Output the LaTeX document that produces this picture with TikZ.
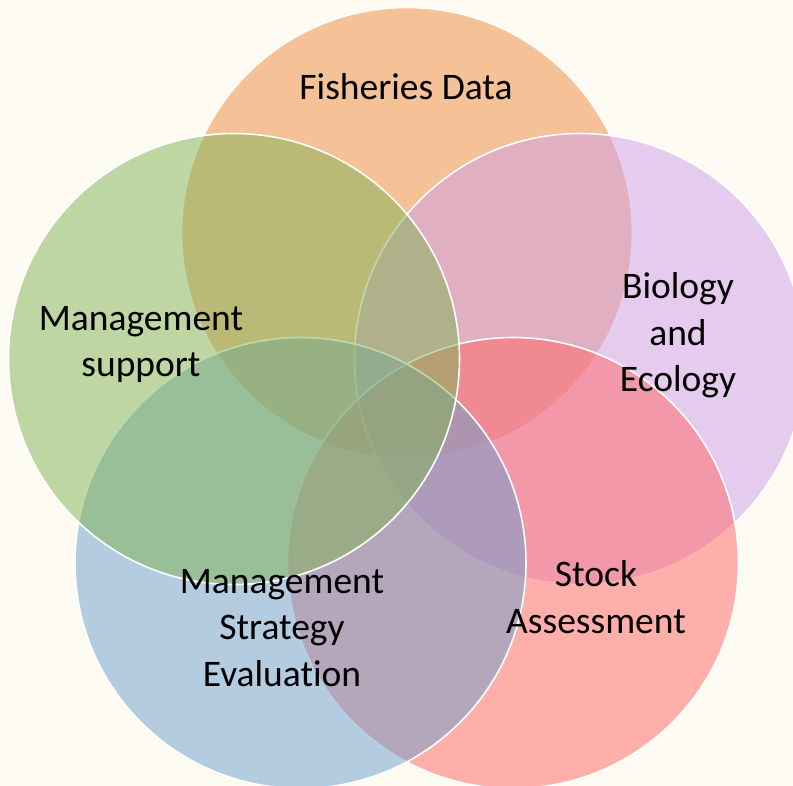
\documentclass[tikz,border=0pt]{standalone}
\usepackage{fontspec}
\setmainfont[Ligatures=NoCommon]{Carlito}
\definecolor{bgc}{RGB}{254,251,242}
\definecolor{corange}{RGB}{238,137,62}
\definecolor{cpurple}{RGB}{206,159,238}
\definecolor{cred}{RGB}{255,101,98}
\definecolor{cblue}{RGB}{108,159,206}
\definecolor{cgreen}{RGB}{128,179,84}
\begin{document}
\begin{tikzpicture}[x=1pt,y=-1pt,
  venn/.style={circle, minimum size=451pt, inner sep=0pt, draw=white, line width=1.6pt, fill opacity=0.5},
  lbl/.style={align=center, font=\fontsize{37.5}{46.5}\selectfont, text=black}]
\fill[bgc] (0,0) rectangle (793,786);
\useasboundingbox (0,0) rectangle (793,786);
\node[venn, fill=corange] (fd) at (407,233) {};
\node[venn, fill=cpurple] (be) at (580,359) {};
\node[venn, fill=cred] (sa) at (513,563) {};
\node[venn, fill=cblue] (mse) at (300.5,563) {};
\node[venn, fill=cgreen] (ms) at (234,359) {};
\node[lbl, anchor=base] (tfd) at (406,100) {Fisheries Data};
\node[lbl] (tms) at (141,344.5) {Management\\support};
\node[lbl] (tbe) at (678,335.5) {Biology\\and\\Ecology};
\node[lbl] (tmse) at (282,628) {Management\\Strategy\\Evaluation};
\node[lbl] (tsa) at (596,597) {Stock\\Assessment};
\end{tikzpicture}
\end{document}
